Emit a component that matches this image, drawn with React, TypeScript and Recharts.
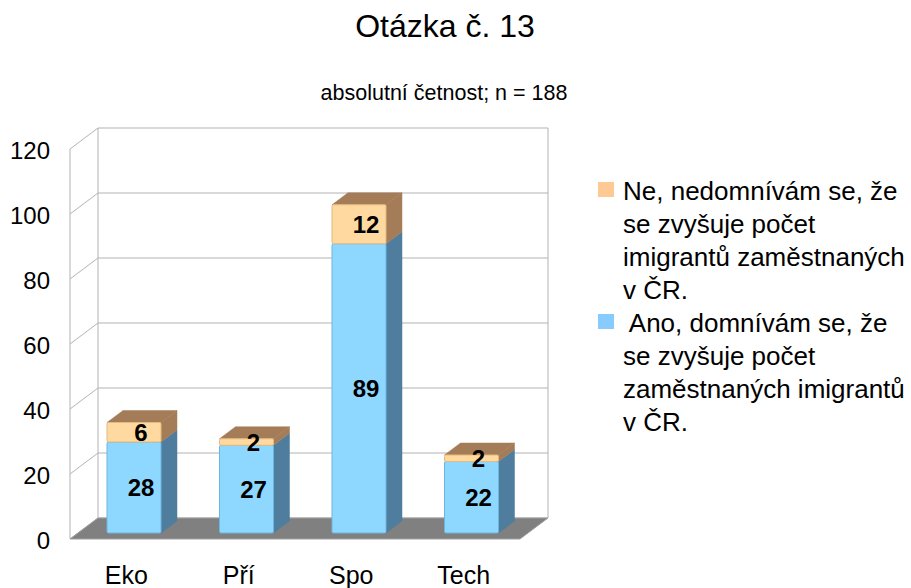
import React from 'react';
import { BarChart, Bar, XAxis, YAxis, CartesianGrid } from 'recharts';

const categories = ['Eko', 'Pří', 'Spo', 'Tech'];
const anoValues = [28, 27, 89, 22];
const neValues = [6, 2, 12, 2];
const yTicks = [0, 20, 40, 60, 80, 100, 120];
const titleText = 'Otázka č. 13';
const subtitleText = 'absolutní četnost; n = 188';
const neLegendLines = ['Ne, nedomnívám se, že', 'se zvyšuje počet', 'imigrantů zaměstnaných', 'v ČR.'];
const anoLegendLines = [' Ano, domnívám se, že', 'se zvyšuje počet', 'zaměstnaných imigrantů', 'v ČR.'];

const data = categories.map((name, i) => ({ name, ano: anoValues[i], ne: neValues[i] }));

const FONT = "'Liberation Sans', Arial, sans-serif";
const WALL_DX = 28;
const WALL_DY = 21;
const BAR_OX = 8;
const BAR_OY = 6;
const BOX_DX = 16;
const BOX_DY = 12;
const GRID = '#b3b3b3';

const ANO = { front: '#8ed8ff', edge: '#6cb6de', side: '#4f7d9e', top: '#4f7d9e' };
const NE = { front: '#ffd9a0', edge: '#e2b97e', side: '#a57c58', top: '#a57c58' };

const gridLine = (p: any) => {
  const { x1, y1, x2, index } = p;
  const top = typeof p.y === 'number' ? p.y : 149;
  const h = typeof p.height === 'number' ? p.height : 390;
  const bottom = top + h;
  const isBottom = Math.abs(y1 - bottom) < 0.5;
  const isTop = Math.abs(y1 - top) < 0.5;
  const by = y1 - WALL_DY;
  return (
    <g key={`gl-${index}`}>
      {isTop && (
        <>
          <line x1={x1} y1={top} x2={x1} y2={bottom} stroke={GRID} strokeWidth={1} />
          <line x1={x1 + WALL_DX} y1={top - WALL_DY} x2={x1 + WALL_DX} y2={bottom - WALL_DY} stroke={GRID} strokeWidth={1} />
          <line x1={x2 + WALL_DX} y1={top - WALL_DY} x2={x2 + WALL_DX} y2={bottom - WALL_DY} stroke={GRID} strokeWidth={1} />
        </>
      )}
      <line x1={x1} y1={y1} x2={x1 + WALL_DX} y2={by} stroke={GRID} strokeWidth={1} />
      <line x1={x1 + WALL_DX} y1={by} x2={x2 + WALL_DX} y2={by} stroke={GRID} strokeWidth={1} />
      {isBottom && (
        <polygon
          points={`${x1},${y1} ${x2},${y1} ${x2 + WALL_DX},${by} ${x1 + WALL_DX},${by}`}
          fill="#808080"
          stroke="#a0a0a0"
          strokeWidth={1}
        />
      )}
    </g>
  );
};

const makeBox = (key: 'ano' | 'ne', c: typeof ANO, isTop: boolean) => (p: any) => {
  const { x, y, width: w, height: h, payload } = p;
  if (w == null || h == null || isNaN(h)) return <g />;
  const fx = x + BAR_OX;
  const fy = y - BAR_OY;
  const side = `${fx + w},${fy} ${fx + w + BOX_DX},${fy - BOX_DY} ${fx + w + BOX_DX},${fy + h - BOX_DY} ${fx + w},${fy + h}`;
  const topPts = `${fx},${fy} ${fx + BOX_DX},${fy - BOX_DY} ${fx + w + BOX_DX},${fy - BOX_DY} ${fx + w},${fy}`;
  return (
    <g>
      <polygon points={side} fill={c.side} stroke={c.side} strokeWidth={0.5} />
      {isTop && <polygon points={topPts} fill={c.top} stroke={c.top} strokeWidth={0.5} />}
      <rect x={fx} y={fy} width={w} height={h} fill={c.front} stroke={c.edge} strokeWidth={1} rx={1.5} />
      <text
        x={fx + w / 2 + 7}
        y={fy + h / 2}
        dy={8.6}
        textAnchor="middle"
        fontFamily={FONT}
        fontWeight="bold"
        fontSize={24}
        fill="#000"
      >
        {payload[key]}
      </text>
    </g>
  );
};

const XTick = (p: any) => (
  <text x={p.x} y={p.y + 45} textAnchor="middle" fontFamily={FONT} fontSize={25} fill="#000">
    {p.payload.value}
  </text>
);

const YTick = (p: any) => (
  <text x={p.x} y={p.y} dy={10} textAnchor="end" fontFamily={FONT} fontSize={24} fill="#000">
    {p.payload.value}
  </text>
);

const LegendBlock = ({ lines, color, top }: { lines: string[]; color: string; top: number }) => (
  <g>
    <rect x={598} y={top} width={16} height={15} fill={color} />
    {lines.map((l, i) => (
      <text key={i} x={623} y={top + 18 + i * 33} fontFamily={FONT} fontSize={26} fill="#000" style={{ whiteSpace: 'pre' }}>
        {l}
      </text>
    ))}
  </g>
);

export default function App() {
  return (
    <div style={{ position: 'absolute', left: 0, top: 0, width: 911, height: 588, background: '#fff', fontFamily: FONT }}>
      <BarChart width={911} height={588} data={data} margin={{ top: 149, right: 391, bottom: 0, left: 10 }} barSize={54}>
        <CartesianGrid vertical={false} horizontal={gridLine} />
        <XAxis dataKey="name" height={49} axisLine={false} tickLine={false} tickSize={0} tickMargin={0} tick={<XTick />} interval={0} />
        <YAxis width={60} domain={[0, 120]} ticks={yTicks} axisLine={false} tickLine={false} tickSize={0} tickMargin={20} tick={<YTick />} interval={0} />
        <Bar dataKey="ano" stackId="s" fill={ANO.front} isAnimationActive={false} shape={makeBox('ano', ANO, false)} />
        <Bar dataKey="ne" stackId="s" fill={NE.front} isAnimationActive={false} shape={makeBox('ne', NE, true)} />
      </BarChart>
      <svg width={911} height={588} style={{ position: 'absolute', left: 0, top: 0, pointerEvents: 'none' }}>
        <text x={445} y={37} textAnchor="middle" fontFamily={FONT} fontSize={32} fill="#000">{titleText}</text>
        <text x={444} y={100} textAnchor="middle" fontFamily={FONT} fontSize={21.5} fill="#000">{subtitleText}</text>
        <LegendBlock lines={neLegendLines} color="#ffc993" top={182} />
        <LegendBlock lines={anoLegendLines} color="#88ccff" top={314} />
      </svg>
    </div>
  );
}
